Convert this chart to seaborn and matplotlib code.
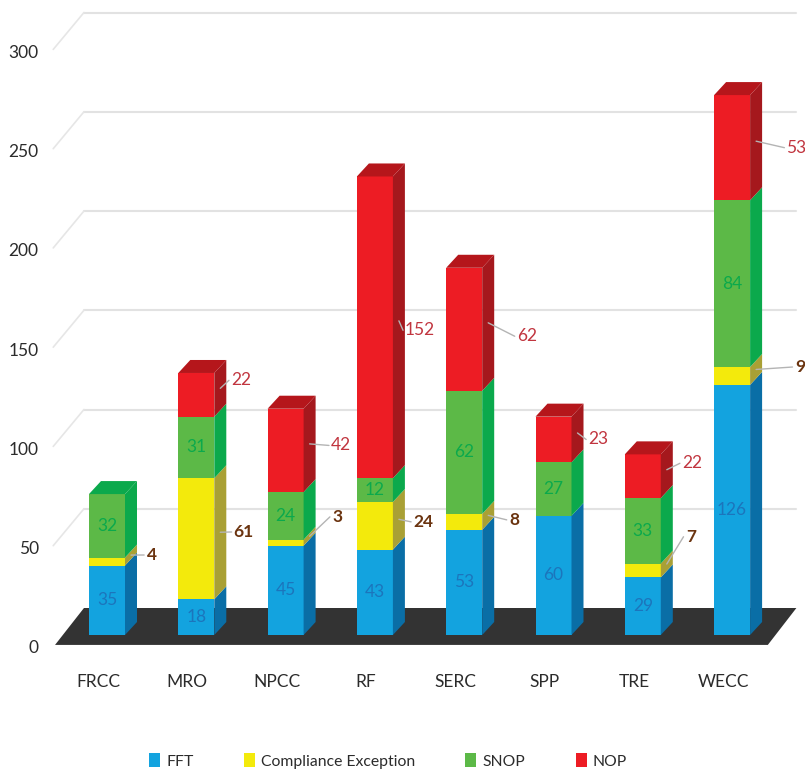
import numpy as np
import pandas as pd
import matplotlib
matplotlib.use("Agg")
import matplotlib.pyplot as plt
from matplotlib.patches import Polygon
import seaborn as sns

regions = ["FRCC", "MRO", "NPCC", "RF", "SERC", "SPP", "TRE", "WECC"]
fft = [35, 18, 45, 43, 53, 60, 29, 126]
compliance = [4, 61, 3, 24, 8, 0, 7, 9]
snop = [32, 31, 24, 12, 62, 27, 33, 84]
nop = [0, 22, 42, 152, 62, 23, 22, 53]
y_ticks = [0, 50, 100, 150, 200, 250, 300]
grid_values = [50, 100, 150, 200, 250, 300]

# label placement offsets (axis units)
comp_label_dx = [0.50, 0.53, 0.58, 0.54, 0.56, 0, 0.54, 0.76]
comp_label_dy = [3.3, 3.4, 13, 2, 1, 0, 17, 4.5]
nop_label_dx = [0, 0.50, 0.62, 0.50, 0.70, 0.50, 0.55, 0.72]
nop_label_dy = [0, 7.3, 2.5, -1.5, -3.5, 0, 6.5, 0]

series_names = ["FFT", "Compliance Exception", "SNOP", "NOP"]
front_colors = ["#13a3df", "#f3ea0c", "#5cb947", "#ed1c24"]
side_colors = ["#0a6ea6", "#a9a035", "#0ba94c", "#a5181d"]
top_colors = ["#0a6ea6", "#a9a035", "#0ba94c", "#b5161b"]

sns.set_theme(style="white")
plt.rcParams["font.family"] = ["Lato", "Liberation Sans", "DejaVu Sans"]

W, H = 805, 771
PX_X, PX_Y = 89.3, 1.985          # pixels per category / per unit
X0, Y0 = 107, 635                 # pixel of category 0 / value 0
L, B = 47, 648                    # axes left and bottom pixels
DX, DY = 12 / PX_X, 13 / PX_Y     # bar depth
WALL_BACK = 13.6                  # back wall offset
WALL_FRONT = -5.0                 # front wall offset
FLOOR_F = (-0.582, 7.40)
FLOOR_B = (-0.258, 7.72)

fig = plt.figure(figsize=(W / 100, H / 100), dpi=100)
ax = fig.add_axes([L / W, (H - B) / H, (W - L) / W, B / H])

df = pd.DataFrame({"region": regions, "FFT": fft, "Compliance Exception": compliance,
                   "SNOP": snop, "NOP": nop})

bottom = np.zeros(len(regions))
for name, color in zip(series_names, front_colors):
    sns.barplot(data=df, x="region", y=name, order=regions, color=color, saturation=1,
                width=36 / PX_X, bottom=bottom, errorbar=None, label=name,
                linewidth=0, zorder=3, ax=ax)
    bottom = bottom + df[name].to_numpy()
totals = bottom

# pseudo-3D sides and tops derived from the drawn bars
for cont, side, top in zip(ax.containers, side_colors, top_colors):
    for i, r in enumerate(cont.patches):
        h = r.get_height()
        if h <= 0:
            continue
        x1 = r.get_x() + r.get_width()
        x0 = r.get_x()
        b = r.get_y()
        t = b + h
        ax.add_patch(Polygon([(x1, b), (x1 + DX, b + DY), (x1 + DX, t + DY), (x1, t)],
                             closed=True, fc=side, ec="none", zorder=3))
        if abs(t - totals[i]) < 1e-6:
            ax.add_patch(Polygon([(x0, t), (x0 + DX, t + DY), (x1 + DX, t + DY), (x1, t)],
                                 closed=True, fc=top, ec="none", zorder=3))

# floor and walls
ax.add_patch(Polygon([(FLOOR_F[0], WALL_FRONT), (FLOOR_B[0], WALL_BACK),
                      (FLOOR_B[1], WALL_BACK), (FLOOR_F[1], WALL_FRONT)],
                     closed=True, fc="#333333", ec="none", zorder=1))
for v in grid_values:
    ax.plot([FLOOR_B[0], FLOOR_B[1]], [v + WALL_BACK, v + WALL_BACK], color="#e2e2e2", lw=1.5, zorder=0.5)
    ax.plot([FLOOR_F[0] - 0.02, FLOOR_B[0]], [v + WALL_FRONT, v + WALL_BACK], color="#e6e6e6", lw=1.2, zorder=0.5)

fs = 12.5
fft_b = np.array(fft)
comp_b = fft_b + np.array(compliance)
snop_b = comp_b + np.array(snop)


def leader_end(xt, text):
    return xt - (len(text) * 4.5 + 3) / PX_X


for i in range(len(regions)):
    ax.text(i, fft[i] / 2, str(fft[i]), color="#1c75bc", ha="center", va="center", fontsize=fs, zorder=5)
    ax.text(i, comp_b[i] + snop[i] / 2, str(snop[i]), color="#0ba94c", ha="center", va="center", fontsize=fs, zorder=5)
    if compliance[i] > 0:
        yc = fft_b[i] + compliance[i] / 2 + comp_label_dy[i]
        xt = i + comp_label_dx[i]
        ax.plot([i + 18 / PX_X + DX / 2, leader_end(xt, str(compliance[i]))],
                [fft_b[i] + compliance[i] / 2 + DY / 2, yc],
                color="#b4b4b4", lw=1, zorder=4)
        ax.text(xt, yc, str(compliance[i]), color="#6b3410", fontweight="bold", ha="center", va="center",
                fontsize=fs, zorder=5)
    if nop[i] > 0:
        yc = snop_b[i] + nop[i] / 2 + nop_label_dy[i]
        xt = i + nop_label_dx[i]
        ax.plot([i + 18 / PX_X + DX / 2, leader_end(xt, str(nop[i]))],
                [snop_b[i] + nop[i] / 2 + DY / 2, yc],
                color="#b4b4b4", lw=1, zorder=4)
        ax.text(xt, yc, str(nop[i]), color="#c1353f", ha="center", va="center", fontsize=fs, zorder=5)

ax.set_xlim((L - X0) / PX_X, (W - X0) / PX_X)
ax.set_ylim((Y0 - B) / PX_Y, Y0 / PX_Y)
ax.set_xticks(np.arange(len(regions)) - 0.10, regions)
ax.set_yticks([v - 6 for v in y_ticks], [str(v) for v in y_ticks])
ax.tick_params(axis="x", length=0, pad=19, labelsize=fs, labelcolor="#2b2b2b")
ax.tick_params(axis="y", length=0, pad=6, labelsize=fs, labelcolor="#2b2b2b")
ax.set_xlabel("")
ax.set_ylabel("")
for s in ax.spines.values():
    s.set_visible(False)
ax.patch.set_alpha(0)

handles, labels = ax.get_legend_handles_labels()
if ax.get_legend() is not None:
    ax.get_legend().remove()
fig.legend(handles, labels, loc="center", bbox_to_anchor=(388 / W, 1 - 761 / H), ncol=4, frameon=False,
           fontsize=11.3, handlelength=0.7, handleheight=1.0, handletextpad=0.4, columnspacing=3.2,
           labelcolor="#2b2b2b")

fig.savefig("out.png", dpi=100)
